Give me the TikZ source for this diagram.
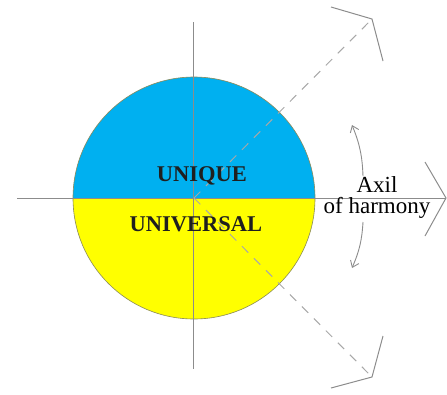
\documentclass[tikz,border=0pt]{standalone}
\usepackage{fontspec}
\setmainfont{Liberation Serif}
\usetikzlibrary{arrows.meta}
\definecolor{skyb}{HTML}{00B0F0}
\definecolor{yell}{HTML}{FFFF00}
\definecolor{axisgray}{HTML}{8C8C8C}
\definecolor{dashgray}{HTML}{A8A8A8}
\definecolor{rimcol}{HTML}{8A8A5A}
\tikzset{
  axisline/.style={draw=axisgray, line width=0.9pt},
  dashline/.style={draw=dashgray, line width=1pt, dash pattern=on 9pt off 8pt},
  chevron/.style={draw=axisgray, line width=1pt, line join=miter},
  swing/.style={draw=axisgray, line width=0.9pt, -{Straight Barb[length=6pt,width=9pt]}},
  bigtxt/.style={font=\fontsize{22.5}{24}\selectfont\bfseries, text=black!88, inner sep=0pt},
  labtxt/.style={font=\fontsize{23}{21}\selectfont, text=black, inner sep=0pt, align=center}
}
\begin{document}
\begin{tikzpicture}[x=1pt,y=-1pt]
\useasboundingbox (0,0) rectangle (447,394);
\coordinate (O) at (194,198);
% circle halves (y axis points down)
\fill[yell] (73,198) arc[start angle=180,end angle=0,radius=121] -- cycle;
\fill[skyb] (73,198) arc[start angle=180,end angle=360,radius=121] -- cycle;
\draw[rimcol, line width=0.6pt] (O) circle[radius=121];
% axes
\coordinate (L) at (17,198);
\coordinate (R) at (446,198);
\coordinate (T) at (193,22);
\coordinate (B) at (193,369);
\draw[axisline] (L) -- (R);
\draw[axisline] (T) -- (B);
% dashed diagonals
\coordinate (UV) at (372,19);
\coordinate (LV) at (372,377);
\draw[dashline] (O) -- (UV);
\draw[dashline] (O) -- (LV);
% chevrons
\coordinate (UA1) at (331,7);
\coordinate (UA2) at (383,61);
\draw[chevron] (UA1) -- (UV) -- (UA2);
\coordinate (LA1) at (331,388);
\coordinate (LA2) at (383,336);
\draw[chevron] (LA1) -- (LV) -- (LA2);
\coordinate (RA1) at (425,162);
\coordinate (RA2) at (425,236);
\draw[chevron] (RA1) -- (R) -- (RA2);
% swing arrows
\coordinate (S1) at (363,176);
\coordinate (S2) at (352,125);
\coordinate (S3) at (363,222);
\coordinate (S4) at (352,268);
\draw[swing] (S1) to[bend right=10] (S2);
\draw[swing] (S3) to[bend left=10] (S4);
% texts
\node[bigtxt] (uq) at (202,176) {UNIQUE};
\node[bigtxt] (uv) at (196,224) {UNIVERSAL};
\node[labtxt] (ax) at (377,197.5) {Axil\\of harmony};
\end{tikzpicture}
\end{document}
